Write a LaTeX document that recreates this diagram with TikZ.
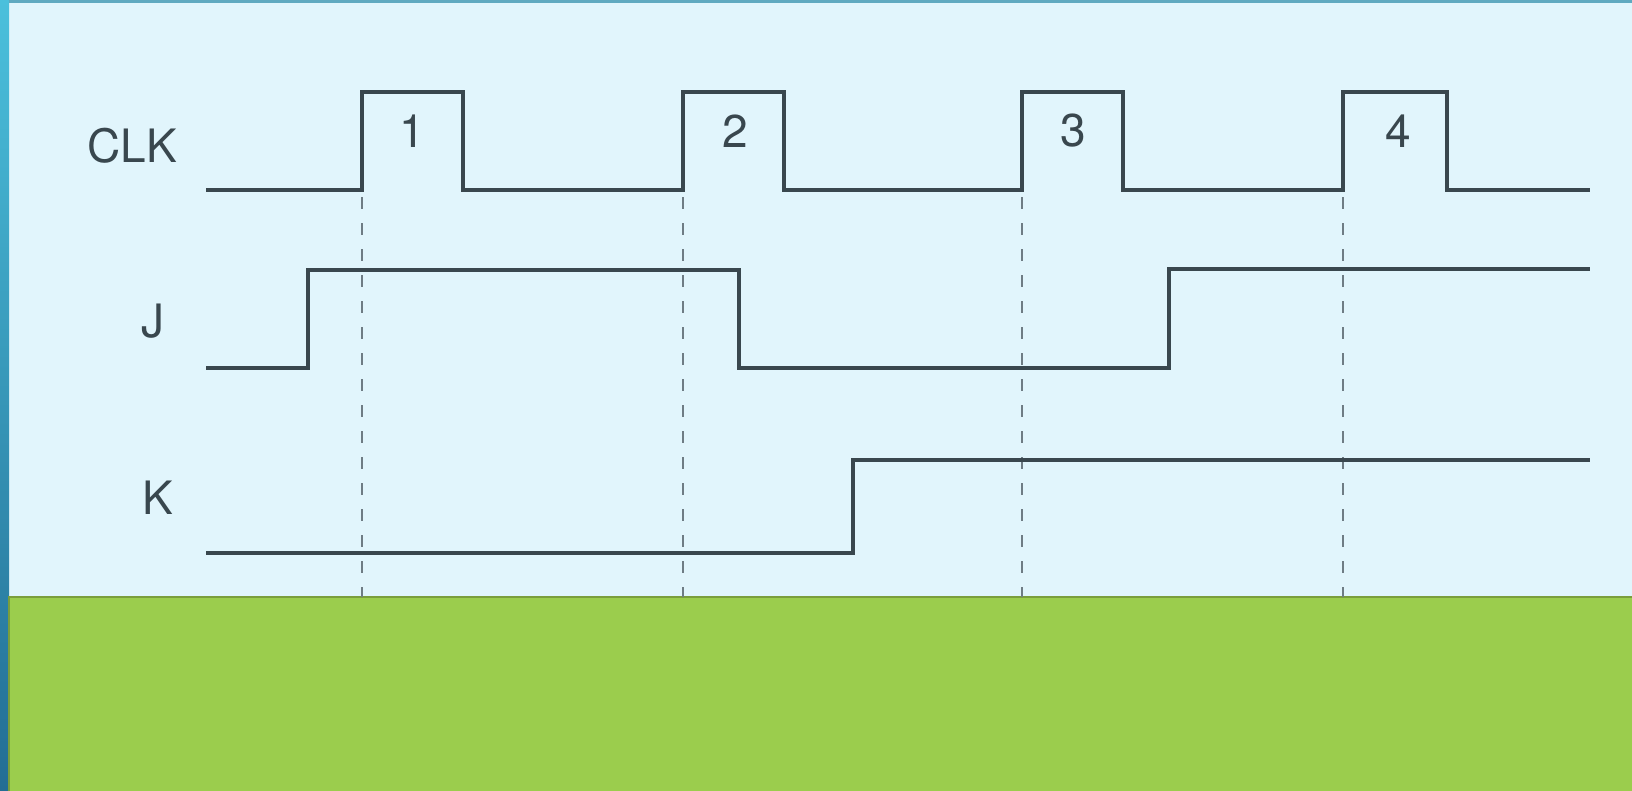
\documentclass[tikz,border=0pt]{standalone}
\usepackage{fontspec}
\setmainfont{TeX Gyre Heros}
\definecolor{bgblue}{HTML}{E1F5FC}
\definecolor{striptop}{HTML}{4BC0DC}
\definecolor{stripbot}{HTML}{236D94}
\definecolor{topline}{HTML}{5FA9C0}
\definecolor{grass}{HTML}{9BCD4D}
\definecolor{grassedge}{HTML}{7A9E3C}
\definecolor{ink}{HTML}{39474E}
\definecolor{dashink}{HTML}{6E7C84}
\tikzset{
  wave/.style={draw=ink, line width=3.2pt, line join=miter},
  guide/.style={draw=dashink, line width=1.8pt, dash pattern=on 12pt off 14pt},
  lbl/.style={text=ink, font=\fontsize{46}{50}\selectfont, inner sep=0pt},
}
\begin{document}
\begin{tikzpicture}[x=1pt,y=-1pt]
\useasboundingbox (0,0) rectangle (1632,790);
% background
\fill[bgblue] (0,0) rectangle (1632,790);
\shade[top color=striptop, bottom color=stripbot] (0,0) rectangle (9,790);
\fill[topline] (9,0) rectangle (1632,3);
% green band
\fill[grass, draw=grassedge, line width=2.5pt] (9,597) rectangle (1640,795);

% labels
\node[lbl] (clk) at (132,146) {CLK};
\node[lbl] (j) at (153,321) {J};
\node[lbl] (k) at (158,498) {K};
\node[lbl] (n1) at (412,131) {1};
\node[lbl] (n2) at (735,131) {2};
\node[lbl] (n3) at (1073,131) {3};
\node[lbl] (n4) at (1398,131) {4};

% guide lines at rising clock edges
\foreach \xx in {362,683,1022,1343}
  \draw[guide] (\xx,197) -- (\xx,597);

% CLK waveform
\draw[wave] (206,190) -- (362,190) -- (362,92) -- (463,92) -- (463,190)
  -- (683,190) -- (683,92) -- (784,92) -- (784,190)
  -- (1022,190) -- (1022,92) -- (1123,92) -- (1123,190)
  -- (1343,190) -- (1343,92) -- (1447,92) -- (1447,190) -- (1590,190);

% J waveform
\draw[wave] (206,368) -- (308,368) -- (308,270) -- (739,270) -- (739,368)
  -- (1169,368) -- (1169,269) -- (1590,269);

% K waveform
\draw[wave] (206,553) -- (853,553) -- (853,460) -- (1590,460);
\end{tikzpicture}
\end{document}
